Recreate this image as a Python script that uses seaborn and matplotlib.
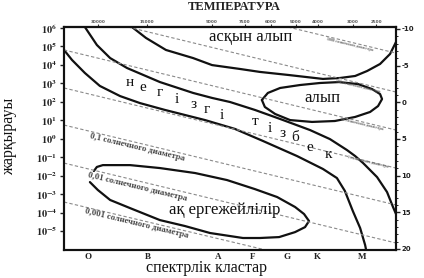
import numpy as np
import pandas as pd
import matplotlib
matplotlib.use('Agg')
import matplotlib.pyplot as plt
from matplotlib.ticker import NullLocator, FixedLocator
import seaborn as sns

# ---------------- data ----------------
# x: position along the spectral-class axis (0..100), y: log10 of luminosity (Sun = 1)
spectral_classes = ['O', 'B', 'A', 'F', 'G', 'K', 'M']
spectral_pos = [7.2, 25.3, 46.4, 56.9, 67.2, 76.2, 89.8]

temp_labels = ['30000', '15000', '9000', '7500', '6000', '5000', '4000', '3000', '2500']
temp_pos = [10.2, 25.0, 44.6, 54.5, 62.3, 69.9, 76.5, 87.0, 94.0]

lum_exponents = [6, 5, 4, 3, 2, 1, 0, -1, -2, -3, -4, -5]
mag_ticks = [-10, -5, 0, 5, 10, 15, 20]

supergiant_x = [20.5, 24.7, 30.7, 38.9, 44.6, 53.0, 59.0, 67.8, 78.0, 83.1, 87.7, 91.3, 95.2, 98.2, 100.0]
supergiant_logL = [6.05, 5.46, 4.81, 4.37, 3.99, 3.78, 3.62, 3.45, 3.24, 3.29, 3.40, 3.67, 4.05, 4.59, 5.24]

upper_ms_x = [6.3, 9.9, 13.9, 19.0, 28.9, 38.9, 44.6, 50.0, 57.5, 65.1, 74.1, 80.1, 85.2, 87.7, 90.1, 94.3, 97.3, 99.1, 100.0]
upper_ms_logL = [6.05, 5.08, 4.37, 3.83, 3.07, 2.48, 2.21, 1.99, 1.56, 1.07, 0.47, -0.02, -0.61, -0.94, -1.32, -2.08, -2.89, -3.70, -4.08]

lower_ms_x = [0.0, 2.4, 6.3, 10.8, 16.9, 22.9, 30.4, 42.5, 51.5, 59.9, 70.2, 78.0, 82.2, 84.6, 87.0, 89.2, 90.7, 91.0]
lower_ms_logL = [4.81, 4.27, 3.56, 2.86, 2.31, 1.93, 1.56, 1.01, 0.53, -0.12, -0.94, -1.64, -2.13, -2.83, -3.92, -4.84, -5.76, -6.03]

giant_x = [59.6, 61.4, 65.1, 71.1, 77.1, 82.8, 88.6, 92.8, 95.2, 95.8, 94.6, 92.2, 87.7, 81.6, 74.7, 68.1, 63.6, 60.5, 59.6]
giant_logL = [2.10, 2.48, 2.75, 2.91, 3.02, 3.07, 2.96, 2.69, 2.42, 2.15, 1.77, 1.45, 1.18, 0.96, 0.91, 1.01, 1.34, 1.72, 2.10]

dwarf_x = [9.0, 9.9, 11.7, 19.9, 28.9, 39.5, 49.1, 57.5, 64.2, 69.6, 72.3, 73.8, 72.6, 69.6, 64.8, 59.0, 53.9, 44.0, 36.4, 28.9, 19.9, 13.9, 10.2, 7.8]
dwarf_logL = [-1.75, -1.53, -1.43, -1.43, -1.59, -1.86, -2.24, -2.73, -3.16, -3.70, -4.08, -4.46, -4.79, -5.06, -5.33, -5.38, -5.38, -5.11, -4.73, -4.41, -3.76, -3.32, -2.78, -2.35]

radius_labels = ['1000', '100', '10', '1', '0,1', '0,01', '0,001']
radius_x0 = [67.5, 19.3, 0.0, 0.0, 0.0, 0.0, 0.0]
radius_y0 = [6.05, 6.05, 4.81, 2.75, 0.74, -1.32, -3.43]
radius_x1 = [100.0, 100.0, 100.0, 100.0, 100.0, 100.0, 60.8]
radius_y1 = [4.64, 2.53, 0.47, -1.59, -3.59, -5.65, -6.03]

ms_letters = ['н', 'е', 'г', 'і', 'з', 'г', 'і', 'т', 'і', 'з', 'б', 'е', 'к']

# ---------------- styling / layout ----------------
sns.set_theme(style='white')
serif = ['Liberation Serif', 'DejaVu Serif']
plt.rcParams['font.family'] = serif
plt.rcParams['mathtext.fontset'] = 'stix'

W, H = 424, 278
fig = plt.figure(figsize=(W / 100, H / 100), dpi=100)
ax = fig.add_axes([64 / W, 1 - 250 / H, 332 / W, 223 / H])

line_kw = dict(color='#111111', linewidth=1.6, sort=False, estimator=None, ax=ax, legend=False)
for xs, ys in [(supergiant_x, supergiant_logL), (upper_ms_x, upper_ms_logL),
               (lower_ms_x, lower_ms_logL), (giant_x, giant_logL), (dwarf_x, dwarf_logL)]:
    df = pd.DataFrame({'x': xs, 'L': np.power(10.0, ys)})
    sns.lineplot(data=df, x='x', y='L', **line_kw)

for x0, y0, x1, y1 in zip(radius_x0, radius_y0, radius_x1, radius_y1):
    df = pd.DataFrame({'x': [x0, x1], 'L': np.power(10.0, [y0, y1])})
    sns.lineplot(data=df, x='x', y='L', color='#8a8a8a', linewidth=0.8,
                 linestyle=(0, (3, 2)), sort=False, estimator=None, ax=ax, legend=False)

ax.set_yscale('log')
ax.set_xlim(0, 100)
ax.set_ylim(10 ** -6.03, 10 ** 6.054)
ax.set_xlabel('')
ax.set_ylabel('')

# left axis: luminosity
ax.yaxis.set_major_locator(FixedLocator([10.0 ** e for e in lum_exponents]))
ax.yaxis.set_minor_locator(NullLocator())
ax.set_yticklabels([r'$\mathbf{10^{%d}}$' % e for e in lum_exponents])
ax.tick_params(axis='y', which='major', left=True, length=3, width=1, pad=2,
               labelsize=7.5, color='#222222', labelcolor='#222222')

# bottom axis: spectral classes
ax.set_xticks(spectral_pos)
ax.set_xticklabels(spectral_classes, fontweight='bold', fontsize=6.5)
ax.tick_params(axis='x', bottom=True, length=0, pad=2, labelcolor='#222222')

for s in ax.spines.values():
    s.set_visible(True)
    s.set_color('#111111')
    s.set_linewidth(1.5)

# top axis: temperature
top = ax.secondary_xaxis('top')
top.set_xticks(temp_pos)
top.set_xticklabels(temp_labels, fontsize=3, fontweight='bold', color='#555555',
                    family=['DejaVu Sans'])
top.tick_params(length=2, width=0.8, pad=0.5, color='#333333')
top.spines['top'].set_linewidth(1.5)

# right axis: absolute magnitude
ax2 = ax.twinx()
ax2.set_ylim(20.14, -10.27)
ax2.set_yticks(mag_ticks)
ax2.set_yticklabels([str(m) for m in mag_ticks], fontsize=5, fontweight='bold', color='#222222',
                    family=['DejaVu Sans'])
ax2.yaxis.set_minor_locator(FixedLocator(list(range(-10, 21))))
ax2.tick_params(axis='y', which='major', right=True, length=3, width=1, pad=1, color='#222222')
ax2.tick_params(axis='y', which='minor', right=True, length=1.6, width=0.7, color='#222222')
ax2.grid(False)
ax.grid(False)
for s in ax2.spines.values():
    s.set_color('#111111')
    s.set_linewidth(1.5)

# region labels
ax.text(56.3, 10 ** 5.51, 'асқын алып', fontsize=12, ha='center', va='center', color='#111111')
ax.text(77.7, 10 ** 2.23, 'алып', fontsize=12, ha='center', va='center', color='#111111')
ax.text(48.5, 10 ** -3.88, 'ақ ергежейлілір', fontsize=12, ha='center', va='center', color='#111111')

ms_x = [19.9, 23.8, 28.9, 34.0, 38.9, 43.1, 47.6, 57.5, 62.0, 65.9, 69.6, 74.1, 79.5]
ms_y = [3.07, 2.80, 2.48, 2.10, 1.88, 1.56, 1.28, 0.91, 0.58, 0.31, 0.04, -0.45, -0.88]
for ch, x, y in zip(ms_letters, ms_x, ms_y):
    ax.text(x, 10 ** y, ch, fontsize=11, ha='center', va='center', color='#111111')

# radius labels
rot = -13.5
left_pos = {'0,1': (22.0, -0.50), '0,01': (22.0, -2.62), '0,001': (22.0, -4.62)}
for lab, (x, y) in left_pos.items():
    ax.text(x, 10 ** y, lab + ' солнечного диаметра', fontsize=6.3, fontweight='bold',
            color='#444444', rotation=rot, rotation_mode='anchor', ha='center', va='center')
right_pos = {'1000': (86.1, 5.08), '100': (88.6, 2.86), '10': (89.8, 0.80), '1': (91.6, -1.26)}
for lab, (x, y) in right_pos.items():
    ax.text(x, 10 ** y, lab + ' солнечного диаметра', fontsize=3, fontweight='bold',
            color='#666666', rotation=rot, rotation_mode='anchor', ha='center', va='center')

# titles
fig.text(234 / W, 1 - 7 / H, 'ТЕМПЕРАТУРА', fontsize=9, fontweight='bold', ha='center',
         va='center', color='#222222')
fig.text(206 / W, 1 - 268 / H, 'спектрлік кластар', fontsize=11.5, ha='center', va='center',
         color='#111111')
fig.text(9 / W, 1 - 136 / H, 'жарқырауы', fontsize=11.5, rotation=90, ha='center', va='center',
         color='#111111')

fig.savefig('out.png', dpi=100)
